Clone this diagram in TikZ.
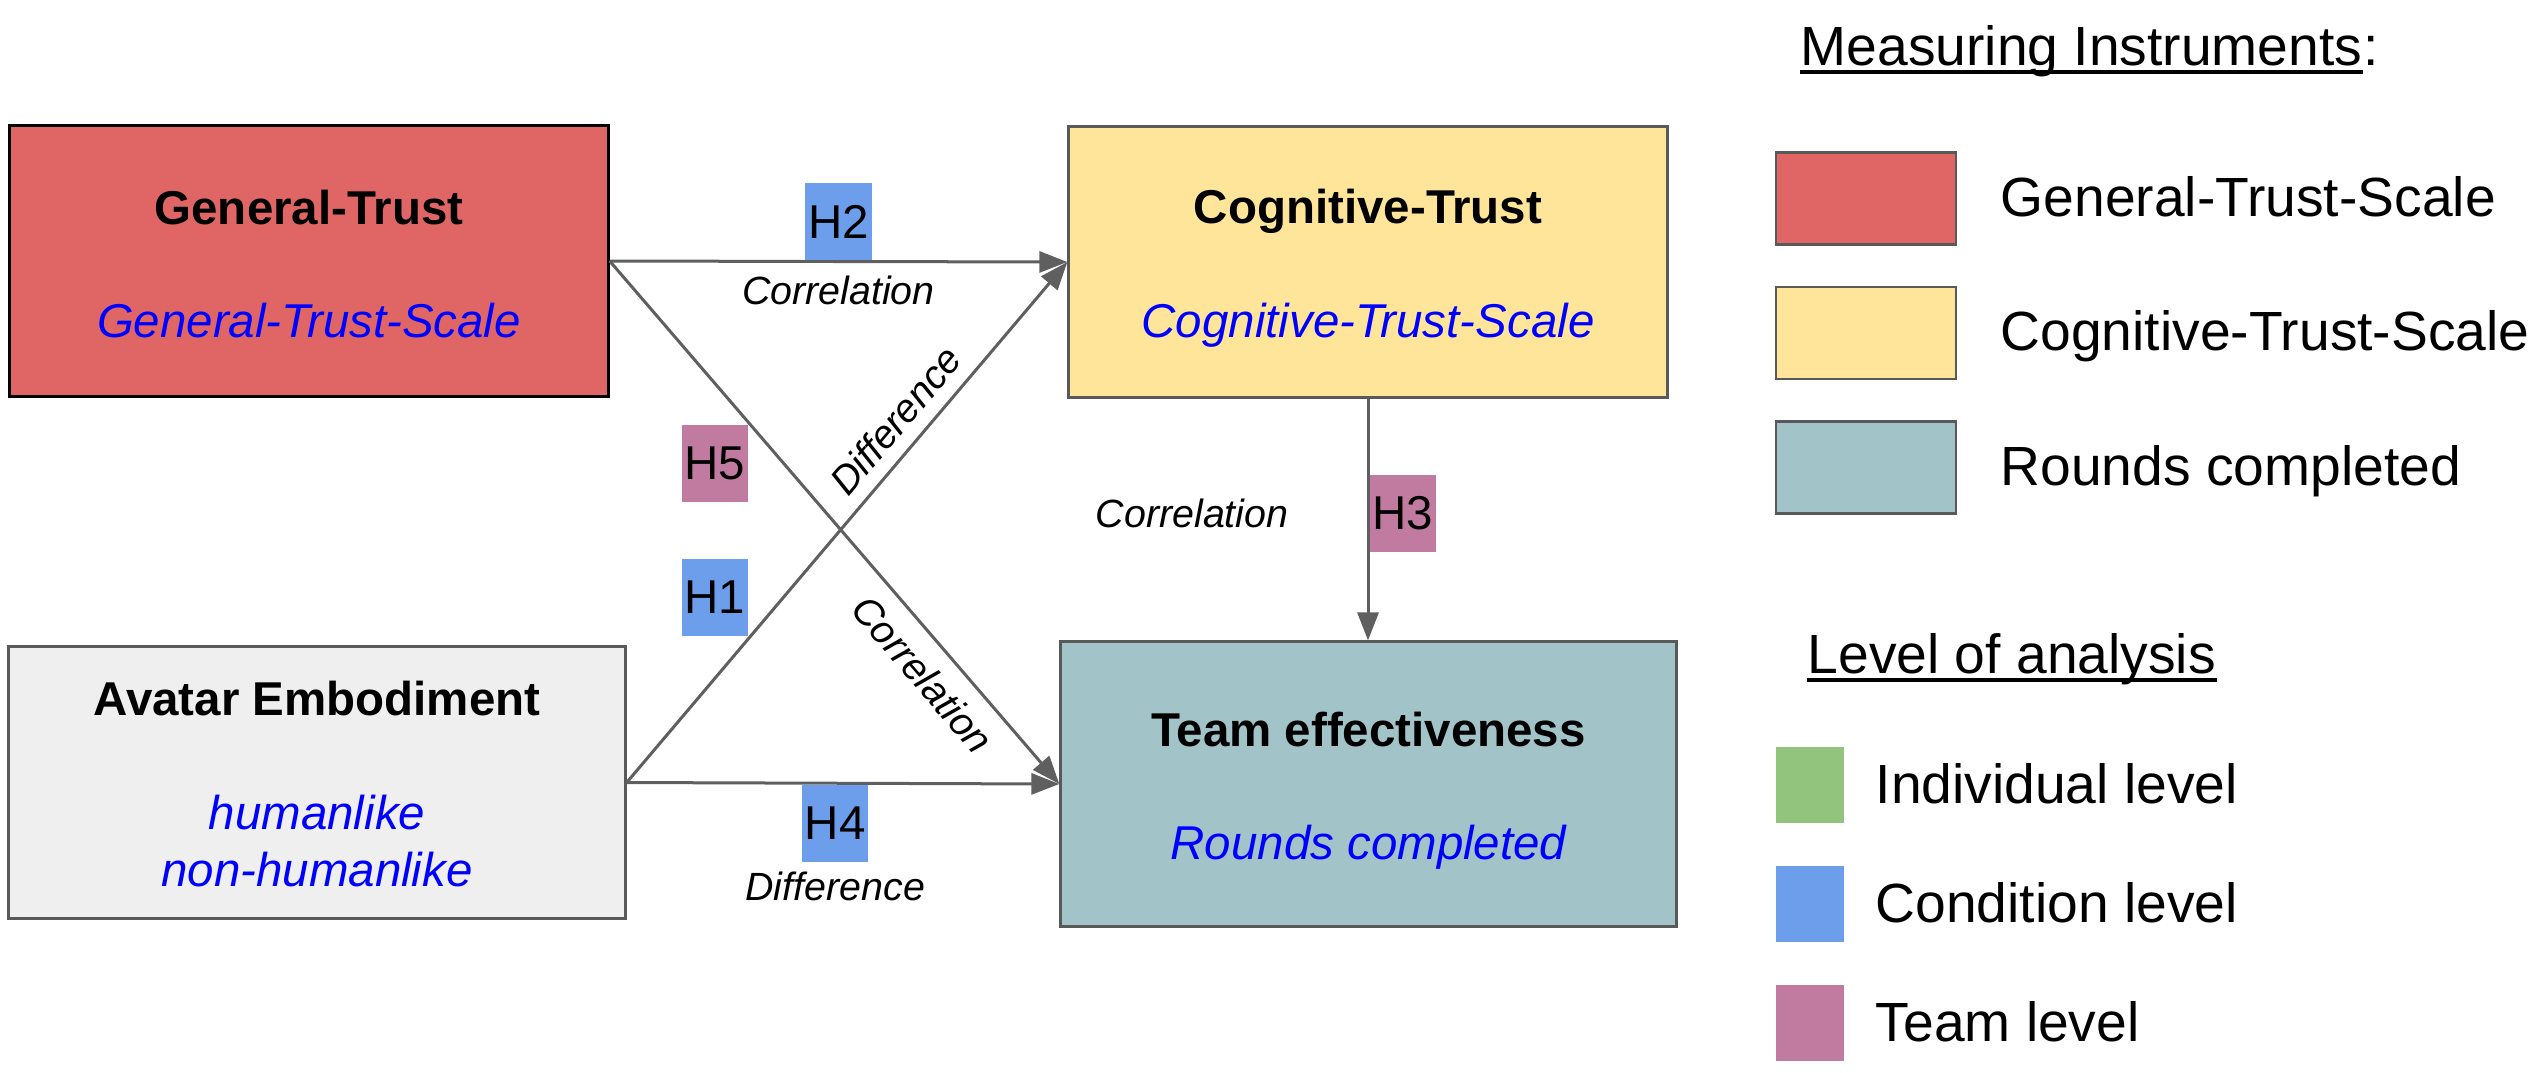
\documentclass[tikz,border=0pt]{standalone}
\usepackage{fontspec}
\setmainfont{Liberation Sans}
\usetikzlibrary{positioning, arrows.meta}
\definecolor{gtred}{HTML}{E06666}
\definecolor{ctyellow}{HTML}{FFE599}
\definecolor{tecyan}{HTML}{A2C4C9}
\definecolor{aegray}{HTML}{EFEFEF}
\definecolor{indgreen}{HTML}{93C47D}
\definecolor{condblue}{HTML}{6D9EEB}
\definecolor{teampink}{HTML}{C27BA0}
\definecolor{edgegray}{HTML}{595959}
\definecolor{arrowgray}{HTML}{5F5F5F}

\begin{document}
\begin{tikzpicture}[x=0.01cm, y=-0.01cm,
    box/.style={rectangle, draw=edgegray, line width=0.03cm, inner sep=0},
    hyp/.style={rectangle, inner sep=0, minimum width=0.66cm, minimum height=0.77cm, font=\fontsize{13.5}{16}\selectfont},
    ttl/.style={inner sep=0, anchor=base, font=\fontsize{13.5}{16}\selectfont\bfseries},
    sub/.style={inner sep=0, anchor=base, text=blue, font=\fontsize{13.5}{16}\selectfont\itshape},
    lab/.style={inner sep=0, font=\fontsize{11.2}{13}\selectfont\itshape},
    leg/.style={inner sep=0, anchor=base west, font=\fontsize{15.7}{19}\selectfont},
    link/.style={-{Triangle[length=0.28cm, width=0.21cm]}, draw=arrowgray, line width=0.03cm}]

    \useasboundingbox (0,0) rectangle (2543,1072);

    % General trust
    \node[box, draw=black, fill=gtred, minimum width=5.98cm, minimum height=2.70cm] (GT) at (309,261) {};
    \node[ttl] (GTt) at (309,224) {General-Trust};
    \node[sub] (GTs) at (309,337) {General-Trust-Scale};

    % Cognitive trust
    \node[box, fill=ctyellow, minimum width=5.98cm, minimum height=2.70cm] (CT) at (1368,262) {};
    \node[ttl] (CTt) at (1368,223) {Cognitive-Trust};
    \node[sub] (CTs) at (1368,337) {Cognitive-Trust-Scale};

    % Avatar embodiment
    \node[box, fill=aegray, minimum width=6.16cm, minimum height=2.71cm] (AE) at (317,782.5) {};
    \node[ttl] (AEt) at (317,715) {Avatar Embodiment};
    \node[sub] (AEs1) at (317,829) {humanlike};
    \node[sub] (AEs2) at (317,886) {non-humanlike};

    % Team effectiveness
    \node[box, fill=tecyan, minimum width=6.15cm, minimum height=2.84cm] (TE) at (1368.5,784) {};
    \node[ttl] (TEt) at (1368.5,746) {Team effectiveness};
    \node[sub] (TEs) at (1368.5,859) {Rounds completed};

    % Hypotheses
    \draw[link] (GT.east) -- node[midway, above, hyp, fill=condblue] (H2) {H2} node[midway, below=0.13cm, lab] (corH2) {Correlation} (CT.west);
    \draw[link] (GT.east) -- node[pos=0.75, sloped, below=0.16cm, lab] (corGT) {Correlation} (TE.west);
    \draw[link] (AE.east) -- node[pos=0.66, sloped, above=0.13cm, lab] (difAE) {Difference} (CT.west);
    \draw[link] (AE.east) -- node[pos=0.482, below, hyp, fill=condblue] (H4) {H4} (TE.west);
    \node[lab, below=0.08cm of H4] (difH4) {Difference};
    \draw[link] (CT.south) -- node[pos=0.475, right, hyp, fill=teampink] (H3) {H3} node[pos=0.475, left=0.78cm, lab] (corH3) {Correlation} (CT.south |- TE.north);
    \node[hyp, fill=teampink] (H5) at (715,463.5) {H5};
    \node[hyp, fill=condblue] (H1) at (715,597.5) {H1};

    % Measuring instruments
    \node[leg] (MI) at (1800,65) {Measuring Instruments};
    \node[leg] (MIc) at (MI.base east) {:};
    \draw[line width=0.045cm] ([yshift=-0.07cm]MI.base west) -- ([yshift=-0.07cm]MI.base east);
    \foreach \c/\t [count=\i] in {gtred/General-Trust-Scale, ctyellow/Cognitive-Trust-Scale, tecyan/Rounds completed} {
        \node[rectangle, draw=edgegray, line width=0.025cm, fill=\c, minimum width=1.80cm, minimum height=0.92cm, inner sep=0] (sq\i) at (1866, 64+134.5*\i) {};
        \node[leg] (it\i) at (2000, 81.5+134.5*\i) {\t};
    }

    % Level of analysis
    \node[leg] (LA) at (1807,673) {Level of analysis};
    \draw[line width=0.045cm] ([yshift=-0.07cm]LA.base west) -- ([yshift=-0.07cm]LA.base east);
    \foreach \c/\t [count=\i] in {indgreen/Individual level, condblue/Condition level, teampink/Team level} {
        \node[rectangle, fill=\c, minimum width=0.68cm, minimum height=0.76cm, inner sep=0] (lv\i) at (1810, 666+119*\i) {};
        \node[leg] (lt\i) at (1875, 684+119*\i) {\t};
    }
\end{tikzpicture}
\end{document}
